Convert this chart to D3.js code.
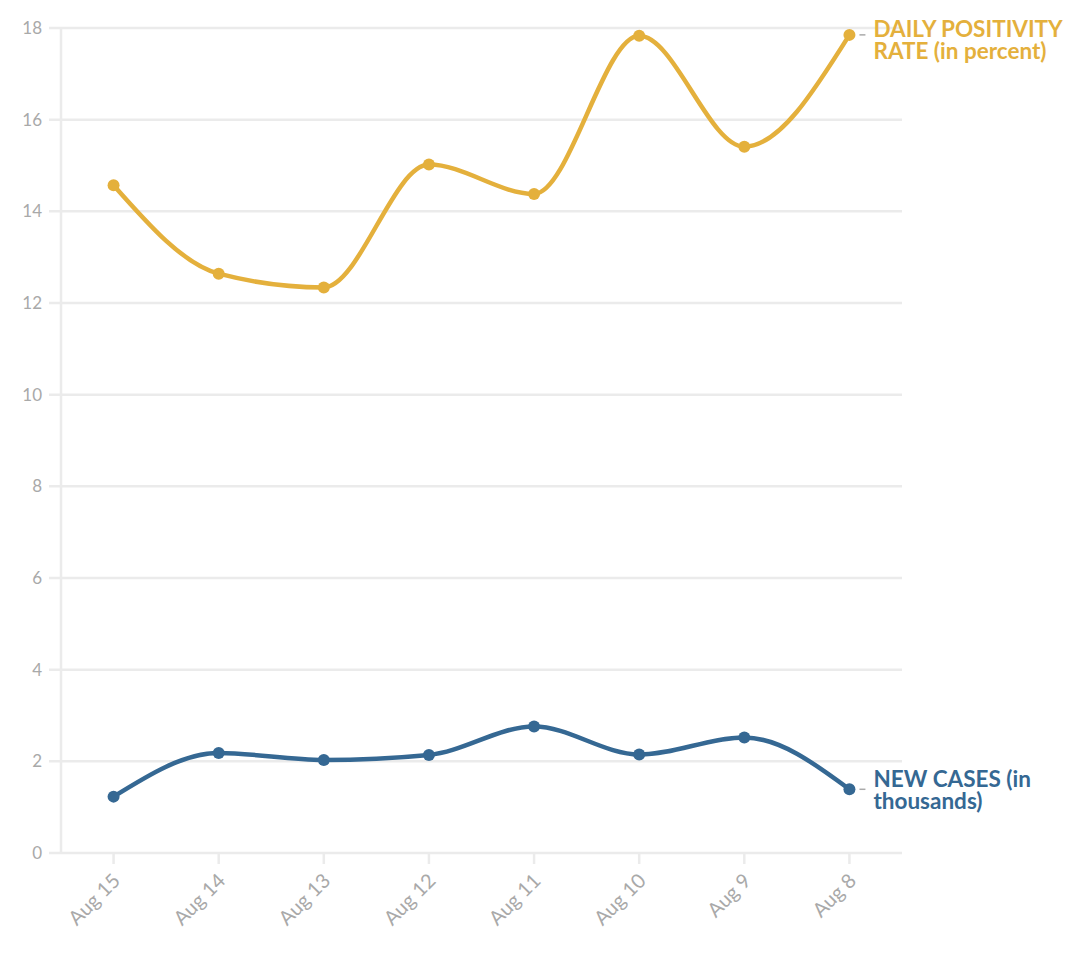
<!DOCTYPE html>
<html>
<head>
<meta charset="utf-8">
<script src="https://cdn.jsdelivr.net/npm/d3@7"></script>
<style>
  html, body { margin: 0; padding: 0; background: #fff; }
  svg { display: block; font-family: "Source Sans Pro", Lato, "Open Sans", sans-serif; }
</style>
</head>
<body>
<svg id="chart" width="1076" height="956"></svg>
<script>
const categories = ["Aug 15", "Aug 14", "Aug 13", "Aug 12", "Aug 11", "Aug 10", "Aug 9", "Aug 8"];
const positivityRate = [14.57, 12.64, 12.34, 15.02, 14.38, 17.83, 15.41, 17.85];
const newCases = [1.23, 2.18, 2.03, 2.14, 2.76, 2.15, 2.52, 1.39];
const yTicks = [0, 2, 4, 6, 8, 10, 12, 14, 16, 18];
const seriesNames = [["DAILY POSITIVITY", "RATE (in percent)"], ["NEW CASES (in", "thousands)"]];
const seriesColors = ["#E4B03C", "#356893"];

const svg = d3.select("#chart");
const margin = { left: 61, right: 174, top: 28, bottom: 103 };
const W = 1076, H = 956;

const x = d3.scalePoint().domain(categories).range([margin.left, W - margin.right]).padding(0.5);
const y = d3.scaleLinear().domain([0, 18]).range([H - margin.bottom, margin.top]);

const grid = "#ebebeb";
const tickText = "#a9a9a9";

// gridlines + y labels
const yAxis = svg.append("g");
yTicks.forEach(t => {
  yAxis.append("line")
    .attr("x1", margin.left - 12).attr("x2", W - margin.right)
    .attr("y1", y(t)).attr("y2", y(t))
    .attr("stroke", grid).attr("stroke-width", 2.5);
  yAxis.append("text")
    .attr("x", margin.left - 19).attr("y", y(t))
    .attr("dy", "0.35em")
    .attr("text-anchor", "end")
    .attr("fill", tickText)
    .attr("font-size", 17)
    .text(t);
});
// y axis line
svg.append("line")
  .attr("x1", margin.left).attr("x2", margin.left)
  .attr("y1", y(18)).attr("y2", y(0))
  .attr("stroke", grid).attr("stroke-width", 2.5);

// x ticks and labels
const xAxis = svg.append("g");
categories.forEach(c => {
  xAxis.append("line")
    .attr("x1", x(c)).attr("x2", x(c))
    .attr("y1", y(0)).attr("y2", y(0) + 11)
    .attr("stroke", grid).attr("stroke-width", 2.5);
  xAxis.append("text")
    .attr("transform", `translate(${x(c) + 3},${y(0) + 24}) rotate(-45)`)
    .attr("text-anchor", "end")
    .attr("dy", "0.35em")
    .attr("fill", tickText)
    .attr("font-size", 20)
    .text(c);
});

const series = [positivityRate, newCases];
const labelShift = [2, -2];
const line = d3.line()
  .x((d, i) => x(categories[i]))
  .y(d => y(d))
  .curve(d3.curveMonotoneX);

series.forEach((vals, si) => {
  const g = svg.append("g");
  g.append("path")
    .attr("d", line(vals))
    .attr("fill", "none")
    .attr("stroke", seriesColors[si])
    .attr("stroke-width", 4.5)
    .attr("stroke-linecap", "round");
  g.selectAll("circle").data(vals).join("circle")
    .attr("cx", (d, i) => x(categories[i]))
    .attr("cy", d => y(d))
    .attr("r", 6)
    .attr("fill", seriesColors[si]);

  const last = vals[vals.length - 1];
  const lx = x(categories[categories.length - 1]);
  const ly = y(last);
  g.append("line")
    .attr("x1", lx + 10).attr("x2", lx + 16)
    .attr("y1", ly).attr("y2", ly)
    .attr("stroke", "#aaa").attr("stroke-width", 1.5);
  seriesNames[si].forEach((s, k) => {
    g.append("text")
      .attr("x", lx + 24)
      .attr("y", ly + labelShift[si] + k * 22)
      .attr("fill", seriesColors[si])
      .attr("font-size", 22.5)
      .attr("font-weight", "bold")
      .text(s);
  });
});
</script>
</body>
</html>
